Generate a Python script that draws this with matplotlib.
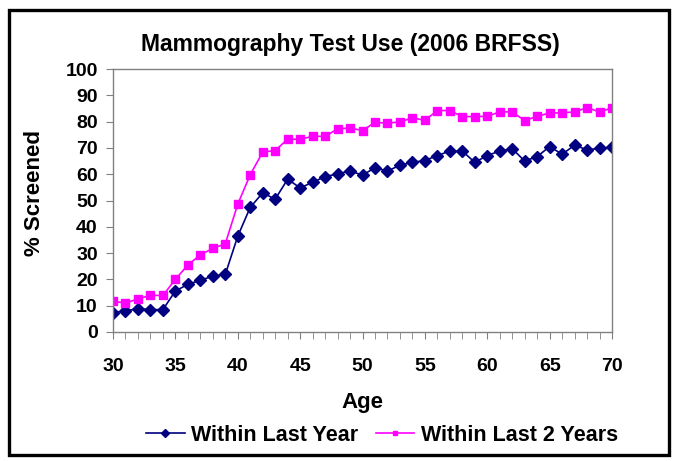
import matplotlib
matplotlib.use("Agg")
from matplotlib import pyplot as plt
from matplotlib.patches import Rectangle
from matplotlib.ticker import MultipleLocator

ages = list(range(30, 71))
last_year = [7.4, 8.0, 8.9, 8.5, 8.5, 15.6, 18.1, 19.7, 21.2, 21.9,
             36.4, 47.4, 52.9, 50.5, 58.1, 54.8, 56.9, 59.1, 60.1, 61.3,
             59.6, 62.5, 61.2, 63.4, 64.5, 65.2, 67.1, 68.8, 68.8, 64.5,
             67.1, 68.8, 69.7, 65.0, 66.7, 70.5, 67.6, 71.0, 69.3, 69.8,
             70.3]
last_2_years = [11.7, 11.0, 12.6, 13.9, 13.9, 20.0, 25.5, 29.3, 31.8, 33.5,
                48.6, 59.8, 68.4, 69.0, 73.3, 73.3, 74.4, 74.4, 77.2, 77.6,
                76.6, 79.7, 79.4, 79.9, 81.4, 80.5, 84.2, 84.2, 81.9, 81.9,
                82.0, 83.7, 83.7, 80.4, 82.0, 83.3, 83.3, 83.7, 85.3, 83.7,
                85.2]

plt.rcParams['font.family'] = ['Liberation Sans', 'DejaVu Sans']
plt.rcParams['font.weight'] = 'bold'

W, H = 685, 461
fig = plt.figure(figsize=(W / 100, H / 100), dpi=100)
fig.patch.set_facecolor('white')

# outer frame
fig.patches.append(Rectangle((9 / W, 1 - 455 / H), 660 / W, 445 / H,
                             transform=fig.transFigure, fill=False,
                             edgecolor='black', linewidth=2.4))

ax = fig.add_axes([113 / W, 1 - 332 / H, 499 / W, 263 / H])
ax.plot(ages, last_year, color='#000080', marker='D', markersize=6.5,
        linewidth=1.2, label='Within Last Year')
ax.plot(ages, last_2_years, color='#FF00FF', marker='s', markersize=6,
        linewidth=1.2, label='Within Last 2 Years')

ax.set_xlim(30, 70)
ax.set_ylim(0, 100)
ax.xaxis.set_major_locator(MultipleLocator(5))
ax.xaxis.set_minor_locator(MultipleLocator(1))
ax.yaxis.set_major_locator(MultipleLocator(10))
for s in ax.spines.values():
    s.set_color('#808080')
    s.set_linewidth(1.0)
ax.tick_params(axis='both', which='both', direction='out', color='#808080',
               labelsize=14)
ax.tick_params(axis='x', which='both', length=5, pad=14)
ax.tick_params(axis='y', length=5, pad=6)
for lbl in ax.get_xticklabels() + ax.get_yticklabels():
    lbl.set_fontweight('bold')

fig.text(350 / W, 1 - 45 / H, 'Mammography Test Use (2006 BRFSS)',
         ha='center', va='center', fontsize=16.5, fontweight='bold')
fig.text(35 / W, 1 - 193 / H, '% Screened', rotation=90,
         ha='center', va='center', fontsize=16, fontweight='bold')
fig.text(362 / W, 1 - 402 / H, 'Age', ha='center', va='center',
         fontsize=16, fontweight='bold')

fig.legend(loc='center', bbox_to_anchor=(382 / W, 1 - 435 / H), ncol=2,
           frameon=False, markerscale=0.6, handlelength=1.8,
           handletextpad=0.3, columnspacing=0.8,
           prop={'weight': 'bold', 'size': 15.5})

fig.savefig('out.png', dpi=100)
